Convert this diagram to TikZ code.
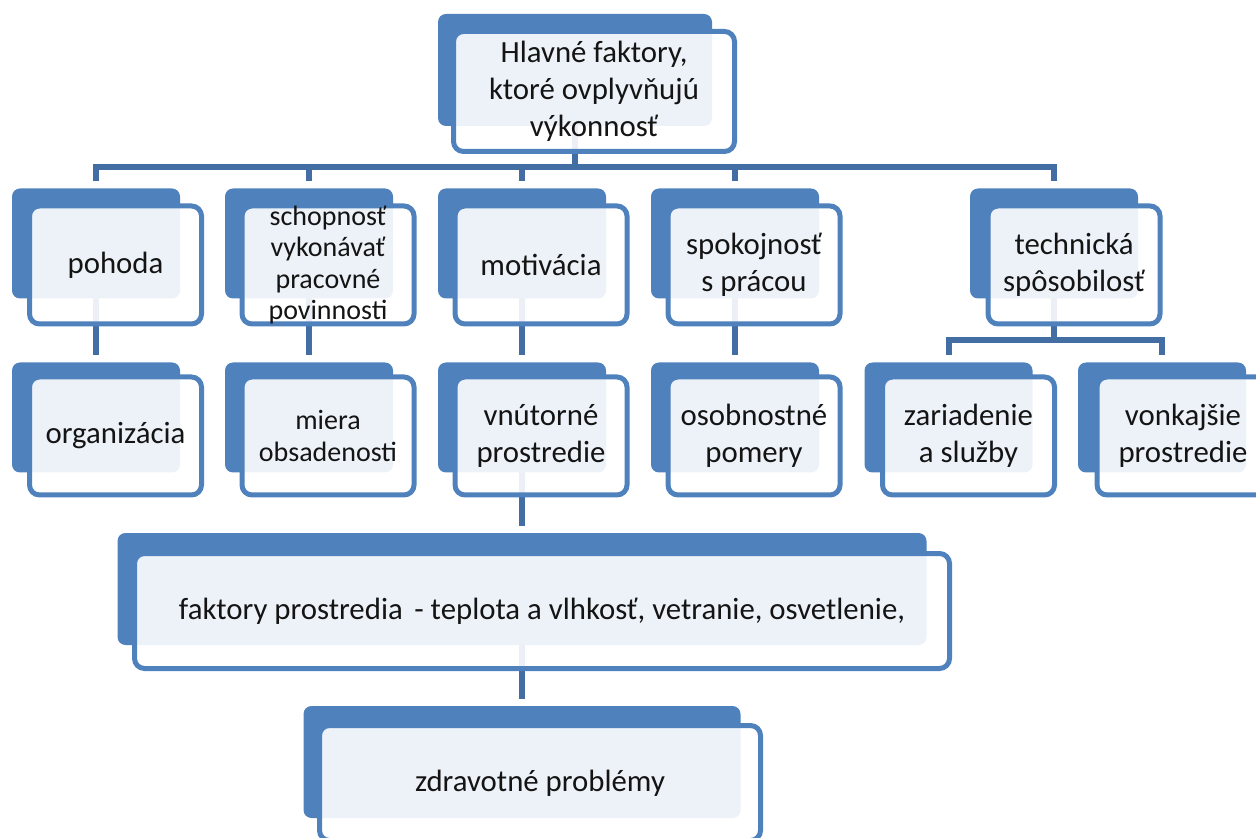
\documentclass[tikz,border=0pt]{standalone}
\usepackage{fontspec}
\setmainfont{Carlito}
\usetikzlibrary{backgrounds}

\definecolor{modra}{RGB}{79,129,189}
\definecolor{ciara}{RGB}{66,110,164}
\definecolor{pismo}{RGB}{20,20,20}
\newcommand{\vpismo}{\fontsize{15.4}{18.5}\selectfont}
\newcommand{\mpismo}{\fontsize{14}{15.6}\selectfont}

\begin{document}
\begin{tikzpicture}[x=0.5pt,y=-0.5pt,
    zad/.style={fill=modra, rounded corners=4pt, inner sep=0pt,
        minimum width=84pt, minimum height=55pt},
    pred/.style={draw=modra, line width=2.5pt, fill=white, fill opacity=0.9,
        text opacity=1, text=pismo, rounded corners=5pt, inner sep=0pt,
        minimum width=86pt, minimum height=59pt, align=center, font=\vpismo},
    spoj/.style={draw=ciara, line width=3pt}]

\useasboundingbox (0,0) rectangle (1256,838);
\clip (0,0) rectangle (1256,838);

% ===== Hlavný box =====
\node[zad, minimum width=137pt, minimum height=56pt] (zad-hlavne) at (575,70) {};
\node[pred, minimum width=140.5pt, minimum height=60pt] (pred-hlavne) at (594,91.5)
    {Hlavné faktory,\\ktoré ovplyvňujú\\výkonnosť};

% ===== Druhá úroveň =====
\node[zad] (zad-pohoda) at (96,243.5) {};
\node[pred] (pred-pohoda) at (115.5,265) {pohoda};

\node[zad] (zad-schopnost) at (309,243.5) {};
\node[pred, font=\mpismo] (pred-schopnost) at (328,265)
    {schopnosť\\vykonávať\\pracovné\\povinnosti};

\node[zad] (zad-motivacia) at (522,243.5) {};
\node[pred] (pred-motivacia) at (541,265) {motivácia};

\node[zad] (zad-spokojnost) at (735,243.5) {};
\node[pred] (pred-spokojnost) at (754,265) {spokojnosť\\s prácou};

\node[zad] (zad-technicka) at (1054,243.5) {};
\node[pred] (pred-technicka) at (1074,265) {technická\\spôsobilosť};

% ===== Tretia úroveň =====
\node[zad] (zad-organizacia) at (96,417.5) {};
\node[pred] (pred-organizacia) at (115.5,436) {organizácia};

\node[zad] (zad-miera) at (309,417.5) {};
\node[pred, font=\mpismo] (pred-miera) at (328,436) {miera\\obsadenosti};

\node[zad] (zad-vnutorne) at (522,417.5) {};
\node[pred] (pred-vnutorne) at (541,436) {vnútorné\\prostredie};

\node[zad] (zad-osobnostne) at (735,417.5) {};
\node[pred] (pred-osobnostne) at (754,436) {osobnostné\\pomery};

\node[zad] (zad-zariadenie) at (948.5,417.5) {};
\node[pred] (pred-zariadenie) at (968.5,436) {zariadenie\\a služby};

\node[zad] (zad-vonkajsie) at (1162,417.5) {};
\node[pred] (pred-vonkajsie) at (1183,436) {vonkajšie\\prostredie};

% ===== Spodné boxy =====
\node[zad, minimum width=404.5pt, minimum height=56pt] (zad-faktory) at (522,589) {};
\node[pred, minimum width=407.5pt, minimum height=57.5pt] (pred-faktory) at (542,611)
    {faktory prostredia\hspace{0.15em} - teplota a vlhkosť, vetranie, osvetlenie,};

\node[zad, minimum width=218.5pt, minimum height=56pt] (zad-zdravotne) at (522,762) {};
\node[pred, minimum width=220.5pt, minimum height=57.5pt] (pred-zdravotne) at (540,783)
    {zdravotné problémy};

% ===== Spojnice =====
\coordinate (bus1) at (575,167);
\coordinate (bus2) at (1054,340);

\begin{pgfonlayer}{background}
\draw[spoj] (zad-hlavne.center) -- (bus1);
\draw[spoj] ([yshift=3.5pt]zad-pohoda.north) |- (bus1) -| ([yshift=3.5pt]zad-technicka.north);
\foreach \n in {schopnost,motivacia,spokojnost}
    \draw[spoj] (zad-\n.north |- bus1) -- ([yshift=3.5pt]zad-\n.north);

\draw[spoj] (zad-pohoda.center) -- ([yshift=3.5pt]zad-organizacia.north);
\draw[spoj] (zad-schopnost.center) -- ([yshift=3.5pt]zad-miera.north);
\draw[spoj] (zad-motivacia.center) -- ([yshift=3.5pt]zad-vnutorne.north);
\draw[spoj] (zad-spokojnost.center) -- ([yshift=3.5pt]zad-osobnostne.north);

\draw[spoj] (zad-technicka.center) -- (bus2);
\draw[spoj] ([yshift=3.5pt]zad-zariadenie.north) |- (bus2) -| ([yshift=3.5pt]zad-vonkajsie.north);

\draw[spoj] (zad-vnutorne.center) -- ([yshift=3.5pt]zad-faktory.north);
\draw[spoj] (zad-faktory.center) -- ([yshift=3.5pt]zad-zdravotne.north);
\end{pgfonlayer}

\end{tikzpicture}
\end{document}
